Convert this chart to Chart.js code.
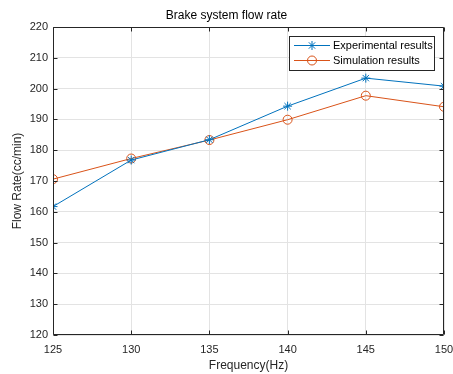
<!DOCTYPE html>
<html>
<head>
<meta charset="utf-8">
<script src="https://cdn.jsdelivr.net/npm/chart.js@4.4.0/dist/chart.umd.min.js"></script>
<style>
  html, body { margin: 0; padding: 0; background: #ffffff; }
  #wrap { width: 453px; height: 374px; }
</style>
</head>
<body>
<div id="wrap"><canvas id="c" width="453" height="374"></canvas></div>
<script>
const frequencies = [125, 130, 135, 140, 145, 150];
const experimental = [161.7, 176.8, 183.4, 194.3, 203.4, 200.8];
const simulation = [170.6, 177.3, 183.3, 189.9, 197.7, 194.1];
const xTicks = [125, 130, 135, 140, 145, 150];
const yTicks = [120, 130, 140, 150, 160, 170, 180, 190, 200, 210, 220];

const BLUE = '#0072BD';
const ORANGE = '#D95319';
const TEXT = '#262626';
const FONT = '"Liberation Sans", Arial, Helvetica, sans-serif';

function pts(vals) { return frequencies.map((f, i) => ({ x: f, y: vals[i] })); }

function drawMarker(ctx, style, x, y, color) {
  ctx.save();
  ctx.strokeStyle = color;
  ctx.lineWidth = 1;
  ctx.beginPath();
  if (style === 'circle') {
    ctx.arc(x, y, 4.5, 0, Math.PI * 2);
  } else {
    const r = 4.5, d = r * Math.SQRT1_2;
    ctx.moveTo(x - r, y); ctx.lineTo(x + r, y);
    ctx.moveTo(x, y - r); ctx.lineTo(x, y + r);
    ctx.moveTo(x - d, y - d); ctx.lineTo(x + d, y + d);
    ctx.moveTo(x - d, y + d); ctx.lineTo(x + d, y - d);
  }
  ctx.stroke();
  ctx.restore();
}

const boxPlugin = {
  id: 'boxPlugin',
  afterDatasetsDraw(chart) {
    const { ctx, chartArea: a, scales } = chart;
    ctx.save();
    ctx.strokeStyle = TEXT;
    ctx.lineWidth = 1;
    const L = Math.round(a.left) + 0.5, R = Math.round(a.right) - 0.5;
    const T = Math.round(a.top) + 0.5, B = Math.round(a.bottom) - 0.5;
    ctx.beginPath();
    ctx.rect(L, T, R - L, B - T);
    const tl = 4;
    xTicks.forEach(v => {
      const px = Math.round(scales.x.getPixelForValue(v)) + 0.5;
      ctx.moveTo(px, B); ctx.lineTo(px, B - tl);
      ctx.moveTo(px, T); ctx.lineTo(px, T + tl);
    });
    yTicks.forEach(v => {
      const py = Math.round(scales.y.getPixelForValue(v)) + 0.5;
      ctx.moveTo(L, py); ctx.lineTo(L + tl, py);
      ctx.moveTo(R, py); ctx.lineTo(R - tl, py);
    });
    ctx.stroke();

    // legend
    const lx = 289.5, ly = 36.5, lw = 145, lh = 34;
    ctx.fillStyle = '#ffffff';
    ctx.fillRect(lx, ly, lw, lh);
    ctx.strokeStyle = TEXT;
    ctx.strokeRect(lx, ly, lw, lh);
    const rows = [45.5, 60.5];
    chart.data.datasets.forEach((ds, i) => {
      const y = rows[i];
      ctx.strokeStyle = ds.borderColor;
      ctx.beginPath();
      ctx.moveTo(294, y); ctx.lineTo(330, y);
      ctx.stroke();
      drawMarker(ctx, ds.pointStyle === 'circle' ? 'circle' : 'star', 312, y, ds.borderColor);
      ctx.fillStyle = '#000000';
      ctx.font = '11px ' + FONT;
      ctx.textBaseline = 'middle';
      ctx.textAlign = 'left';
      ctx.fillText(ds.label, 333, y);
    });
    ctx.restore();
  }
};

new Chart(document.getElementById('c'), {
  type: 'line',
  data: {
    datasets: [
      {
        label: 'Experimental results',
        data: pts(experimental),
        borderColor: BLUE,
        backgroundColor: 'rgba(0,0,0,0)',
        borderWidth: 1,
        pointStyle: 'star',
        pointRadius: 4.5,
        pointBorderWidth: 1,
        pointBorderColor: BLUE,
        pointBackgroundColor: 'rgba(0,0,0,0)',
        tension: 0
      },
      {
        label: 'Simulation results',
        data: pts(simulation),
        borderColor: ORANGE,
        backgroundColor: 'rgba(0,0,0,0)',
        borderWidth: 1,
        pointStyle: 'circle',
        pointRadius: 4.5,
        pointBorderWidth: 1,
        pointBorderColor: ORANGE,
        pointBackgroundColor: 'rgba(0,0,0,0)',
        tension: 0
      }
    ]
  },
  options: {
    responsive: false,
    animation: false,
    layout: { padding: 0 },
    plugins: {
      legend: { display: false },
      tooltip: { enabled: false },
      title: {
        display: true,
        text: 'Brake system flow rate',
        color: '#000000',
        font: { family: FONT, size: 12, weight: 'normal', lineHeight: 1.2 },
        padding: { top: 8, bottom: 4.6 }
      }
    },
    scales: {
      x: {
        type: 'linear',
        min: 125, max: 150,
        afterBuildTicks(s) { s.ticks = xTicks.map(v => ({ value: v })); },
        afterFit(s) { s.height = 39; s.paddingRight = 9; s.paddingLeft = 0; },
        grid: { color: '#e3e3e3', drawTicks: false, lineWidth: 1 },
        border: { display: false },
        ticks: {
          color: TEXT, padding: 8, maxRotation: 0,
          font: { family: FONT, size: 11 }
        },
        title: {
          display: true, text: 'Frequency(Hz)', color: TEXT,
          font: { family: FONT, size: 12, lineHeight: 1.2 },
          padding: { top: 0, bottom: 1 }
        }
      },
      y: {
        type: 'linear',
        min: 120, max: 220,
        afterBuildTicks(s) { s.ticks = yTicks.map(v => ({ value: v })); },
        afterFit(s) { s.width = 53; s.paddingTop = 0; s.paddingBottom = 0; },
        grid: { color: '#e3e3e3', drawTicks: false, lineWidth: 1 },
        border: { display: false },
        ticks: {
          color: TEXT, padding: 5,
          font: { family: FONT, size: 11 }
        },
        title: {
          display: true, text: 'Flow Rate(cc/min)', color: TEXT,
          font: { family: FONT, size: 12, lineHeight: 1.2 },
          padding: { top: 10, bottom: 0 }
        }
      }
    }
  },
  plugins: [boxPlugin]
});
</script>
</body>
</html>
